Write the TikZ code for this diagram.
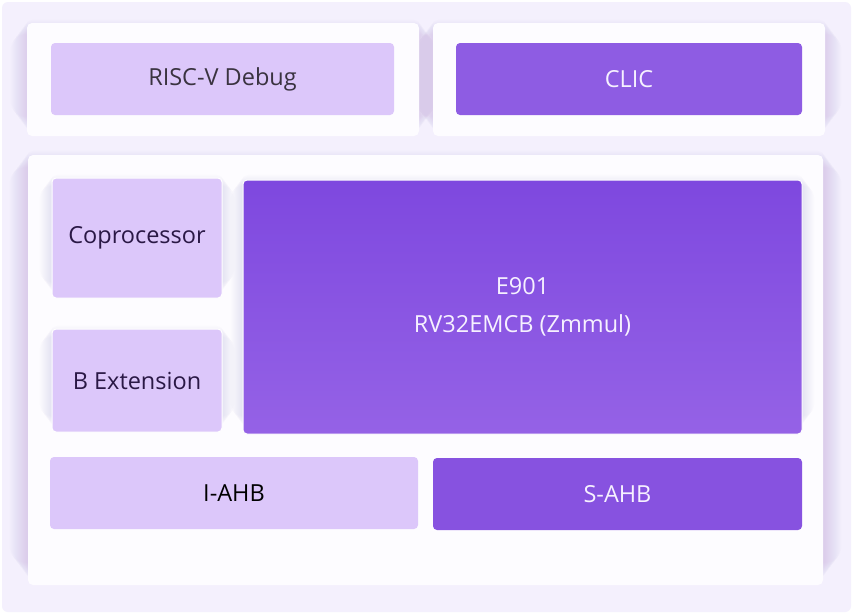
\documentclass[tikz,border=0pt]{standalone}
\usepackage{fontspec}
\setmainfont{Open Sans}
\definecolor{bgc}{HTML}{F4F0FD}
\definecolor{panelc}{HTML}{FDFCFF}
\definecolor{lightc}{HTML}{DCC7FA}
\definecolor{clicc}{HTML}{8E5CE3}
\definecolor{sahbc}{HTML}{8752E0}
\definecolor{etop}{HTML}{7E48DF}
\definecolor{ebot}{HTML}{9562E6}
\definecolor{shadc}{HTML}{B49CEA}
\definecolor{txtdark}{HTML}{2A1845}
\definecolor{txtgray}{HTML}{3A3340}
\definecolor{txtlight}{HTML}{F6F1FF}
\tikzset{
  panel/.style={fill=panelc, rounded corners=5pt, draw=none, inner sep=0pt},
  boxbase/.style={rounded corners=4pt, inner sep=0pt, align=center, font=\fontsize{23.5}{38}\selectfont},
  lightbox/.style={boxbase, fill=lightc, text=txtdark},
  darkbox/.style={boxbase, fill=clicc, text=txtlight},
  thinwhite/.style={draw=white, line width=1pt},
  shadowlayer/.style={fill=shadc, fill opacity=0.018}
}
% #1 node name, #2 number of layers, #3 downward offset
\newcommand{\mysoftshadow}[3]{%
  \foreach \i in {1,...,#2}{%
    \fill[shadowlayer, rounded corners={(6+0.5*\i)*1pt}] ([shift={(-\i pt,{-\i pt+#3 pt})}]#1.north west) rectangle ([shift={(\i pt,{\i pt+#3 pt})}]#1.south east);
  }%
}
\begin{document}
\begin{tikzpicture}[x=1pt,y=-1pt]
\useasboundingbox (0,0) rectangle (853,614);
\fill[white] (0,0) rectangle (853,614);
\fill[bgc, rounded corners=6pt] (2,2) rectangle (851,612);
% panel placeholders for shadows
\path (223,79.5) node[minimum width=392pt, minimum height=113pt, inner sep=0pt] (ptls) {};
\path (629,79.5) node[minimum width=392pt, minimum height=113pt, inner sep=0pt] (ptrs) {};
\path (425.5,370) node[minimum width=795pt, minimum height=430pt, inner sep=0pt] (pmains) {};
\mysoftshadow{ptls}{16}{4}
\mysoftshadow{ptrs}{16}{4}
\mysoftshadow{pmains}{18}{5}
% panels
\node[panel, minimum width=392pt, minimum height=113pt] (ptl) at (223,79.5) {};
\node[panel, minimum width=392pt, minimum height=113pt] (ptr) at (629,79.5) {};
\node[panel, minimum width=795pt, minimum height=430pt] (pmain) at (425.5,370) {};
% top boxes
\node[lightbox, text=txtgray, minimum width=343pt, minimum height=72pt] (dbg) at (222.5,79) {RISC-V Debug};
\node[darkbox, minimum width=346pt, minimum height=72pt] (clic) at (629,79) {CLIC};
% shadow placeholders for inner boxes
\path (137,238) node[minimum width=170pt, minimum height=120pt, inner sep=0pt] (cops) {};
\path (137,380.5) node[minimum width=170pt, minimum height=103pt, inner sep=0pt] (bexts) {};
\path (522.5,305) node[minimum width=559pt, minimum height=254pt, inner sep=0pt] (cores) {};
\mysoftshadow{cops}{12}{4}
\mysoftshadow{bexts}{12}{4}
\mysoftshadow{cores}{12}{4}
% left column
\node[lightbox, thinwhite, minimum width=170pt, minimum height=120pt] (cop) at (137,238) {Coprocessor};
\node[lightbox, thinwhite, minimum width=170pt, minimum height=103pt] (bext) at (137,380.5) {B Extension};
% core
\node[boxbase, thinwhite, top color=etop, bottom color=ebot, text=txtlight, minimum width=559pt, minimum height=254pt] (core) at (522.5,307) {E901\\RV32EMCB (Zmmul)};
% buses
\node[lightbox, text=black, minimum width=368pt, minimum height=72pt] (iahb) at (234,493) {I-AHB};
\node[darkbox, fill=sahbc, minimum width=369pt, minimum height=72pt] (sahb) at (617.5,494) {S-AHB};
\end{tikzpicture}
\end{document}
